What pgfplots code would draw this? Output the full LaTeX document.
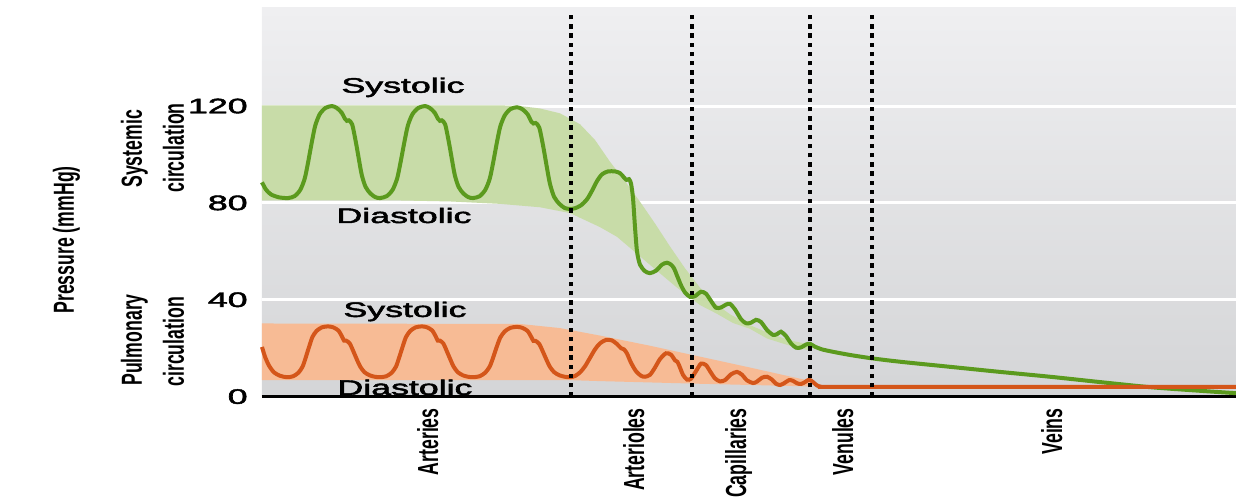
\documentclass[border=0pt]{standalone}
\usepackage{pgfplots}
\pgfplotsset{compat=1.18}
\usepackage{graphicx}
\usepackage{fontspec}
\setmainfont{Liberation Sans}
\newfontfamily\hfam[FakeBold=2]{Liberation Sans}
\newfontfamily\vfam{Liberation Sans}
\definecolor{bgtop}{HTML}{EFEFF1}
\definecolor{bgbot}{HTML}{D4D5D7}
\definecolor{gband}{HTML}{C8DCA8}
\definecolor{oband}{HTML}{F7BB95}
\definecolor{gline}{HTML}{5B9A1E}
\definecolor{oline}{HTML}{D4561A}
\newcommand{\hfont}{\hfam\fontsize{10.5}{12}\selectfont}
\newcommand{\vfont}{\vfam\bfseries\fontsize{14.5}{16}\selectfont}
\begin{document}
\begin{tikzpicture}
\begin{axis}[
  scale only axis, width=487pt, height=194.3pt,
  xmin=262, xmax=1236, ymin=0, ymax=160.5,
  axis x line*=bottom, axis y line*=left,
  x axis line style={line width=1.4pt, black, -},
  y axis line style={draw=none},
  xtick=\empty, ytick={0,40,80,120},
  ymajorgrids, grid style={white, line width=1.5pt},
  major tick length=0pt,
  /pgf/number format/assume math mode=true,
  yticklabel={\scalebox{1.7}[1]{\pgfmathprintnumber{\tick}}},
  yticklabel style={font=\hfont, anchor=east, inner sep=0pt, xshift=-7pt},
  axis background/.style={top color=bgtop, bottom color=bgbot},
  clip=false,
]
\coordinate (SW) at (rel axis cs:0,0);
\coordinate (NE) at (rel axis cs:1,1);
% systemic band
\addplot[fill=gband, draw=none] coordinates {
(262,120.3) (500,120.3) (520,120) (540,119) (560,117) (580,112.5) (595,106) (610,97) (625,89) (640,80.5) (655,71.5) (670,62) (685,53) (700,45) (715,38.5) (730,34) (750,29.5) (770,26) (790,23.2) (810,21.5)
(810,19) (790,21) (767,24) (750,28) (733,30.4) (717,34.2) (700,37.8) (677,45) (650,54.4) (617,66) (600,70) (570,75.8) (540,78.2) (500,79.6) (450,80.6) (400,81) (262,81)
} -- cycle;
% pulmonary band
\addplot[fill=oband, draw=none] coordinates {
(262,30.2) (520,30) (560,28.3) (600,25.2) (650,21) (700,16.5) (750,12) (790,8.3) (810,6.5)
(810,4.2) (700,5.3) (600,6.4) (570,6.8) (262,6.8)
} -- cycle;
% systemic pressure
\addplot[gline, line width=2pt, smooth, tension=0.45] coordinates {
(262,88.5) (266,85.5) (271,83.5) (279,82.3) (288,82)
(294.6,82.8) (300.3,85.4) (304.7,90) (307.8,96.1) (310,101) (312.2,105.9) (315.3,112) (319.7,116.6) (325.4,119.2) (332,120)
(336.8,119.2) (341.6,117.3) (345,114.7) (346.9,113.9) (348.8,114.1) (352.2,112.4) (356,104.8) (358.9,98) (361.8,91.5) (365.6,86.6) (370.4,83.9) (375.2,82.4) (380,82)
(386.75,82.8) (392.6,85.4) (397.1,90) (400.25,96.1) (402.5,101) (404.75,105.9) (407.9,112) (412.4,116.6) (418.25,119.2) (425,120)
(429.8,119.2) (434.6,117.3) (438,114.7) (439.9,113.9) (441.8,114.1) (445.2,112.4) (449,104.8) (451.9,98) (454.8,91.5) (458.6,86.6) (463.4,83.9) (468.2,82.4) (473,82)
(479.6,82.75) (485.3,85.4) (489.7,89.9) (492.8,95.9) (495,100.75) (497.2,105.6) (500.3,111.6) (504.7,116.1) (510.4,118.75) (517,119.5)
(522.3,118.7) (527.6,116.6) (531.3,113.6) (533.4,112.8) (535.6,113) (539.3,111.1) (543.5,102.7) (546.7,95.1) (549.9,88) (554.1,82.5) (559.4,79.6) (564.7,77.9) (570,77.5)
(575,77.8) (581,79) (587,81.5) (592,85) (597,89) (602,91.8) (608,93) (615,93) (620,92.3) (624,90.5) (626.5,89.5) (629,89.8) (631,88)
(633,82) (635,70) (637,60) (640,54.5) (645,51.8) (650,51) (656,52) (662,54.5) (667,55.3) (671,54.5) (674,53) (677,50) (681,46) (685,43) (690,41.2)
(695,41.5) (701,43.3) (706,42.5) (711,39.5) (716,36.7) (721,36.8) (726,38) (730,38.3) (735,36) (741,32) (746,30.3) (751,30.5) (756,31.7) (761,30.8)
(767,27.5) (773,25.5) (777,25.8) (781,26.8) (786,25) (791,22) (796,20.2) (801,20.3) (806,21.5) (810,21.8) (815,20.6) (822,19.5) (833,18.5) (850,17.2)
(872,15.8) (900,14.4) (950,12.3) (1000,10.2) (1050,8.2) (1100,6) (1150,3.9) (1200,2.4) (1236,1.4)
};
% pulmonary pressure
\addplot[oline, line width=2pt, smooth, tension=0.45] coordinates {
(262,20.5) (265,16.5) (269,12.8) (274,10) (280,8.6) (287,8)
(293.2,8.4) (298.5,9.9) (302.6,12.4) (305.5,15.8) (307.5,18.5) (309.6,21.2) (312.4,24.6) (316.5,27.1) (321.9,28.6) (328,29)
(333.2,28.6) (338.4,27.3) (342,24.8) (344.1,23.1) (346.2,23.1) (349.8,21.9) (354,18.1) (357.1,15.1) (360.2,12.4) (364.4,10.1) (369.6,8.8) (374.8,8.2) (380,8)
(386.3,8.4) (391.8,9.9) (396,12.4) (398.9,15.8) (401,18.5) (403.1,21.2) (406,24.6) (410.2,27.1) (415.7,28.6) (422,29)
(427.1,28.6) (432.2,27.3) (435.8,24.8) (437.8,23.1) (439.9,23.1) (443.4,21.9) (447.5,18.1) (450.6,15.1) (453.6,12.4) (457.7,10.1) (462.8,8.8) (467.9,8.2) (473,8)
(479.6,8.4) (485.3,9.9) (489.7,12.4) (492.8,15.7) (495,18.4) (497.2,21.1) (500.3,24.4) (504.7,26.9) (510.4,28.4) (517,28.8)
(522.3,28.4) (527.6,27.1) (531.3,24.6) (533.4,23) (535.6,23) (539.3,21.7) (543.5,18) (546.7,15) (549.9,12.3) (554.1,10.1) (559.4,8.8) (564.7,8.2) (570,8)
(575,8.5) (580,10) (585,12.5) (590,16) (595,19.5) (600,22) (606,23.4) (612,23.2) (617,21.7) (621,20) (624,19.5) (627,17.8) (631,14) (636,10.5) (641,8.6) (645,8.2)
(650,9) (655,12) (660,15.5) (666,17.9) (671,17.3) (675,15) (677.5,14.3) (680,12) (683,9) (687,7) (691,7.4) (696,10.5) (701,13.6) (706,13) (710,10.5) (715,7.5) (720,6.3)
(725,6.8) (731,9.2) (737,10.2) (742,9) (747,6.7) (753,5.6) (757,6.2) (762,7.8) (767,8.2) (772,7) (776,5.3) (780,4.8) (784,5.5) (789,6.8) (793,6.5) (797,5.5) (801,5.2) (805,6) (809,7) (813,6) (817,4.6) (822,4) (830,4)
(1000,4) (1236,4)
};
% dotted boundaries
\addplot[black, line width=2pt, dash pattern=on 2.2pt off 2.4pt] coordinates {(571,0) (571,158.9)};
\addplot[black, line width=2pt, dash pattern=on 2.2pt off 2.4pt] coordinates {(692,0) (692,158.9)};
\addplot[black, line width=2pt, dash pattern=on 2.2pt off 2.4pt] coordinates {(810,0) (810,158.9)};
\addplot[black, line width=2pt, dash pattern=on 2.2pt off 2.4pt] coordinates {(872,0) (872,158.9)};
% band labels
\node[anchor=base, inner sep=0pt, font=\hfont] at (axis cs:403,125.5) {\scalebox{1.7}[1]{Systolic}};
\node[anchor=base, inner sep=0pt, font=\hfont] at (axis cs:404,71.7) {\scalebox{1.7}[1]{Diastolic}};
\node[anchor=base, inner sep=0pt, font=\hfont] at (axis cs:405,32.9) {\scalebox{1.7}[1]{Systolic}};
\node[anchor=base, inner sep=0pt, font=\hfont] at (axis cs:405,0.7) {\scalebox{1.7}[1]{Diastolic}};
% left labels
\node[rotate=90, anchor=base, inner sep=0pt, font=\vfont] at (axis cs:74,64.7) {\scalebox{0.61}[1]{Pressure (mmHg)}};
\node[rotate=90, anchor=base, inner sep=0pt, font=\vfont] at (axis cs:142,102.3) {\scalebox{0.61}[1]{Systemic}};
\node[rotate=90, anchor=base, inner sep=0pt, font=\vfont] at (axis cs:184,102.7) {\scalebox{0.61}[1]{circulation}};
\node[rotate=90, anchor=base, inner sep=0pt, font=\vfont] at (axis cs:142,23.4) {\scalebox{0.61}[1]{Pulmonary}};
\node[rotate=90, anchor=base, inner sep=0pt, font=\vfont] at (axis cs:184,22.6) {\scalebox{0.61}[1]{circulation}};
% x labels
\node[rotate=90, anchor=base east, inner sep=0pt, font=\vfont] at (axis cs:438,-4.7) {\scalebox{0.61}[1]{Arteries}};
\node[rotate=90, anchor=base east, inner sep=0pt, font=\vfont] at (axis cs:644,-4.7) {\scalebox{0.61}[1]{Arterioles}};
\node[rotate=90, anchor=base east, inner sep=0pt, font=\vfont] at (axis cs:746,-4.7) {\scalebox{0.61}[1]{Capillaries}};
\node[rotate=90, anchor=base east, inner sep=0pt, font=\vfont] at (axis cs:853,-4.7) {\scalebox{0.61}[1]{Venules}};
\node[rotate=90, anchor=base east, inner sep=0pt, font=\vfont] at (axis cs:1062,-4.7) {\scalebox{0.61}[1]{Veins}};
\end{axis}
\pgfresetboundingbox
\path ([xshift=-131pt,yshift=-52.7pt]SW) rectangle ([yshift=4pt]NE);
\end{tikzpicture}
\end{document}
